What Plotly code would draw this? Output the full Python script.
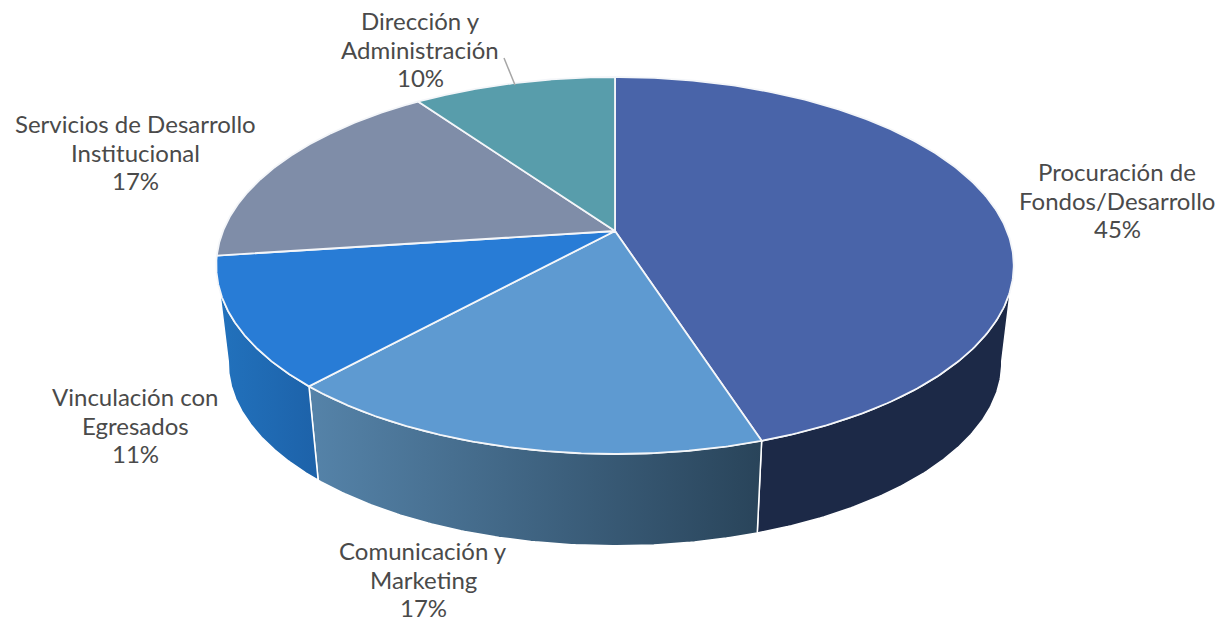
import numpy as np
import plotly.graph_objects as go

# ---- data ----
categories = ["Procuración de<br>Fondos/Desarrollo", "Comunicación y<br>Marketing",
              "Vinculación con<br>Egresados", "Servicios de Desarrollo<br>Institucional",
              "Dirección y<br>Administración"]
values = [45.0, 16.8, 11.1, 17.3, 9.8]
top_colors = ["#4964a9", "#5e9ad1", "#287cd6", "#7f8da8", "#589dab"]
side_left = ["#1c2947", "#5583a9", "#2272bd", None, None]
side_right = ["#1c2947", "#29445a", "#1d62a9", None, None]

# ---- geometry of the tilted disc (perspective of a unit circle) ----
W, H = 1220, 619
CX, CY = 615.0, 231.0
A, B, K = 392.0, 182.2, 0.183
S, BOTTOM_CY = 0.97, 329.5
VISIBLE_WALL = (100 / 360, 260 / 360)   # part of the rim whose wall faces the viewer
LABEL_POS = [(1117, 200), (423, 579), (135, 425), (135, 152), (420, 49)]
LINE_PITCH = 28.6


def project(theta, scale=1.0, cy=CY):
    u, v = np.sin(theta), np.cos(theta)
    d = 1 + K * v
    return CX + scale * A * u / d, cy - scale * B * v / d


fractions = np.cumsum([0] + values) / sum(values)
fig = go.Figure()

# side walls
for i, (a, b) in enumerate(zip(fractions[:-1], fractions[1:])):
    if side_left[i] is None:
        continue
    lo, hi = max(a, VISIBLE_WALL[0]), min(b, VISIBLE_WALL[1])
    t = np.linspace(lo, hi, 120) * 2 * np.pi
    x1, y1 = project(t)
    x2, y2 = project(t[::-1], scale=S, cy=BOTTOM_CY)
    xs = np.r_[x1, x2, x1[0]]
    ys = np.r_[y1, y2, y1[0]]
    fig.add_trace(go.Scatter(
        x=xs, y=ys, mode="lines", fill="toself",
        line=dict(color="white", width=1.5),
        fillgradient=dict(type="horizontal", start=float(xs.min()), stop=float(xs.max()),
                          colorscale=[[0, side_left[i]], [1, side_right[i]]]),
        hoverinfo="skip", showlegend=False))

# top faces
for i, (a, b) in enumerate(zip(fractions[:-1], fractions[1:])):
    t = np.linspace(a, b, 240) * 2 * np.pi
    x, y = project(t)
    fig.add_trace(go.Scatter(
        x=np.r_[CX, x, CX], y=np.r_[CY, y, CY], mode="lines", fill="toself",
        fillcolor=top_colors[i], line=dict(color="#f4f6f9", width=1.8),
        hoverinfo="skip", showlegend=False))

# leader line of the last slice
fig.add_shape(type="line", x0=504, y0=58, x1=515, y1=85, xref="x", yref="y",
              line=dict(color="#a6a6a6", width=1.5))

# labels, one annotation per line so the line pitch can follow the reference
for name, val, (lx, ly) in zip(categories, values, LABEL_POS):
    lines = name.split("<br>") + [f"{round(val)}%"]
    for k, line in enumerate(lines):
        fig.add_annotation(x=lx, y=ly + (k - (len(lines) - 1) / 2) * LINE_PITCH,
                           xref="x", yref="y", text=line, showarrow=False,
                           font=dict(family="Lato", size=24, color="#4a4a4a"))

fig.update_xaxes(visible=False, range=[0, W], fixedrange=True)
fig.update_yaxes(visible=False, range=[H, 0], fixedrange=True)
fig.update_layout(width=W, height=H, margin=dict(l=0, r=0, t=0, b=0),
                  paper_bgcolor="white", plot_bgcolor="white", showlegend=False)
fig.write_html("out.html", config={"displayModeBar": False},
               post_script="document.body.style.margin='0';")
